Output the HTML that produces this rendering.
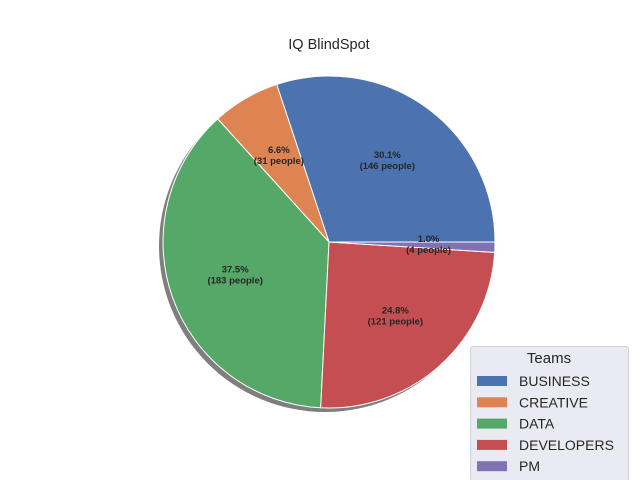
<!DOCTYPE html>
<html><head><meta charset="utf-8"><style>
body{margin:0;background:#fff;}
svg{display:block;font-family:"Liberation Sans","DejaVu Sans",sans-serif;}
</style></head><body>
<svg id="chart" width="640" height="480">
<text x="329" y="49" text-anchor="middle" font-size="14.5" fill="#262626">IQ BlindSpot</text>
<g id="shadow"></g>
<g id="slices"></g>
<g id="labels"></g>
<g>
<rect x="470.5" y="346.5" width="158" height="140" rx="3" fill="#eaeaf2" stroke="#d0d0d8"/>
<text x="549" y="363" text-anchor="middle" font-size="15" fill="#262626">Teams</text>
<g id="legitems"></g>
</g>
</svg>
<script>
const categories=["BUSINESS","CREATIVE","DATA","DEVELOPERS","PM"];
const percents=[30.1,6.6,37.5,24.8,1.0];
const people=[146,31,183,121,4];
const colors=["#4c72b0","#dd8452","#55a868","#c44e52","#8172b3"];
const cx=329,cy=242,R=166;
const NS="http://www.w3.org/2000/svg";
const total=percents.reduce((a,b)=>a+b,0);
function pt(a,r,ox,oy){return [ox+r*Math.cos(a),oy-r*Math.sin(a)];}
function arc(a0,a1,ox,oy){const p0=pt(a0,R,ox,oy),p1=pt(a1,R,ox,oy);const large=(a1-a0)>Math.PI?1:0;
return `M${ox},${oy}L${p0[0]},${p0[1]}A${R},${R} 0 ${large} 0 ${p1[0]},${p1[1]}Z`;}
const sh=document.createElementNS(NS,'circle');
sh.setAttribute('cx',cx-4);sh.setAttribute('cy',cy+4);sh.setAttribute('r',R);sh.setAttribute('fill','#000');sh.setAttribute('opacity','0.5');


document.getElementById('shadow').appendChild(sh);
let a=0;
percents.forEach((v,i)=>{
 const da=v/total*2*Math.PI;const a1=a+da;
 const p=document.createElementNS(NS,'path');
 p.setAttribute('d',arc(a,a1,cx,cy));p.setAttribute('fill',colors[i]);p.setAttribute('stroke','#fff');p.setAttribute('stroke-width','1');
 
 
 document.getElementById('slices').appendChild(p);
 const m=(a+a1)/2;const lp=pt(m,R*0.6,cx,cy);
 const t=document.createElementNS(NS,'text');
 t.setAttribute('x',lp[0]);t.setAttribute('y',lp[1]-3);t.setAttribute('text-anchor','middle');
 t.setAttribute('font-size','9.5');t.setAttribute('font-weight','bold');t.setAttribute('fill','#262626');
 
 
 const pct=v.toFixed(1)+'%';
 t.innerHTML=`<tspan x="${lp[0]}" dy="0">${pct}</tspan><tspan x="${lp[0]}" dy="11">(${people[i]} people)</tspan>`;
 document.getElementById('labels').appendChild(t);
 a=a1;
 const g=document.getElementById('legitems');const y=381+i*21.3;
 const r=document.createElementNS(NS,'rect');
 r.setAttribute('x',477);r.setAttribute('y',y-5);r.setAttribute('width',30);r.setAttribute('height',10);r.setAttribute('fill',colors[i]);
 
 
 g.appendChild(r);
 const lt=document.createElementNS(NS,'text');
 lt.setAttribute('x',519);lt.setAttribute('y',y+5);lt.setAttribute('font-size','14');lt.setAttribute('fill','#262626');
 lt.textContent=categories[i];
 
 
 g.appendChild(lt);
});
</script>
</body></html>
